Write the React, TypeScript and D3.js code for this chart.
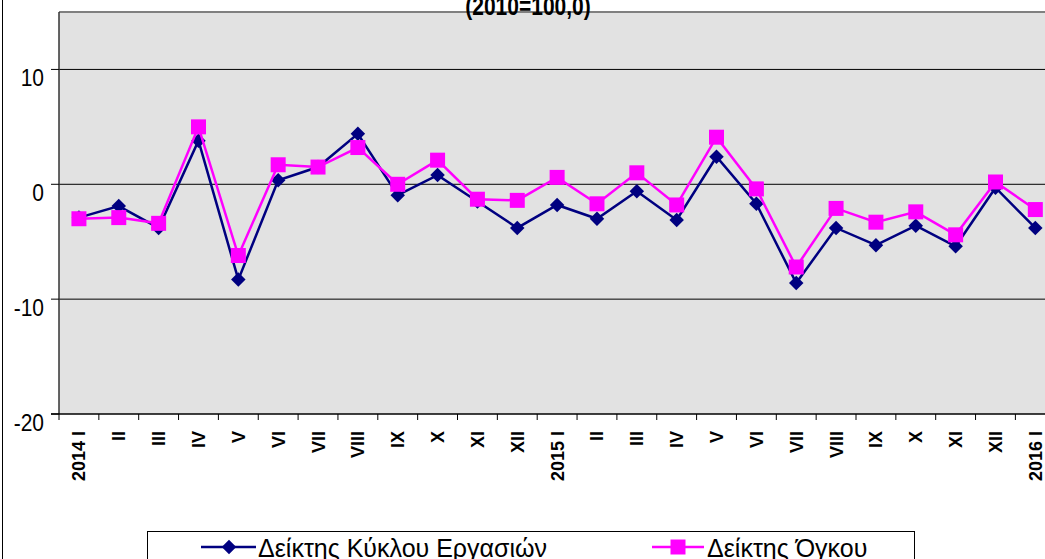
import React from 'react';
import * as d3 from 'd3';

const months = [
  '2014 I', 'II', 'III', 'IV', 'V', 'VI', 'VII', 'VIII', 'IX', 'X', 'XI', 'XII',
  '2015 I', 'II ', 'III ', 'IV ', 'V ', 'VI ', 'VII ', 'VIII ', 'IX ', 'X ', 'XI ', 'XII ',
  '2016 I',
];

const turnover = [
  -2.9, -1.9, -3.8, 3.8, -8.3, 0.35, 1.5, 4.4, -0.95, 0.8, -1.5, -3.8,
  -1.8, -3.0, -0.6, -3.1, 2.4, -1.7, -8.6, -3.8, -5.3, -3.6, -5.4, -0.3, -3.8,
];

const volume = [
  -3.0, -2.9, -3.4, 5.0, -6.2, 1.7, 1.5, 3.2, 0.0, 2.1, -1.3, -1.4,
  0.6, -1.7, 1.0, -1.8, 4.1, -0.4, -7.2, -2.1, -3.3, -2.4, -4.4, 0.2, -2.2,
];

const yTicks = [10, 0, -10, -20];

const seriesNames = ['Δείκτης Κύκλου Εργασιών', 'Δείκτης Όγκου'];
const title = '(2010=100,0)';

const W = 1045;
const H = 559;
const NAVY = '#000080';
const MAGENTA = '#FF00FF';

export default function App() {
  const left = 59;
  const top = 12;
  const bottom = 414;
  const step = 39.85;

  const x = d3.scaleBand<string>()
    .domain(months)
    .range([left, left + step * months.length]);
  const cx = (i: number) => (x(months[i]) as number) + x.bandwidth() / 2;

  const y = d3.scaleLinear().domain([-20, 15]).range([bottom, top]);

  const line = d3.line<number>()
    .x((_, i) => cx(i))
    .y(d => y(d));

  const square = d3.symbol(d3.symbolSquare, 225)();
  const diamond = d3.symbol(d3.symbolSquare, 105)();

  const right = left + step * months.length;
  const boundaries = d3.range(months.length + 1).map(i => left + i * step);

  return (
    <svg width={W} height={H} style={{ position: 'absolute', left: 0, top: 0 }}
      fontFamily="Arial, 'Liberation Sans', sans-serif">
      <rect x={0} y={0} width={W} height={H} fill="#fff" />
      <line x1={2.5} x2={2.5} y1={0} y2={H} stroke="#000" strokeWidth={1} />

      {/* plot area */}
      <rect x={left} y={top} width={right - left} height={bottom - top} fill="#E2E2E2" />
      <line x1={left} x2={right} y1={top} y2={top} stroke="#808080" strokeWidth={2} />

      {yTicks.filter(t => t !== -20).map(t => (
        <line key={t} x1={left} x2={right} y1={y(t)} y2={y(t)} stroke="#000" strokeWidth={1} />
      ))}

      {/* axes */}
      <line x1={left} x2={left} y1={top} y2={bottom} stroke="#333" strokeWidth={1.5} />
      <line x1={left - 8} x2={right} y1={bottom} y2={bottom} stroke="#000" strokeWidth={1.5} />
      {yTicks.map(t => (
        <g key={t}>
          <line x1={left - 8} x2={left} y1={y(t)} y2={y(t)} stroke="#000" strokeWidth={1} />
          <text x={44} y={y(t) + 17} textAnchor="end" fontSize={21} fill="#000"
            transform={`translate(0,${y(t) + 17}) scale(1,1.1) translate(0,${-(y(t) + 17)})`}>{t}</text>
        </g>
      ))}
      {boundaries.map((bx, i) => (
        <line key={i} x1={bx} x2={bx} y1={bottom} y2={bottom + 6} stroke="#000" strokeWidth={1} />
      ))}
      {months.map((m, i) => (
        <text key={i} transform={`translate(${cx(i) + 6.5},431) rotate(-90)`}
          textAnchor="end" fontSize={18} fontWeight="bold" fill="#000">{m.trim()}</text>
      ))}

      {/* series */}
      <path d={line(turnover) || ''} fill="none" stroke={NAVY} strokeWidth={2.5} />
      {turnover.map((v, i) => (
        <path key={i} d={diamond || ''} transform={`translate(${cx(i)},${y(v)}) rotate(45)`} fill={NAVY} />
      ))}
      <path d={line(volume) || ''} fill="none" stroke={MAGENTA} strokeWidth={2.5} />
      {volume.map((v, i) => (
        <path key={i} d={square || ''} transform={`translate(${cx(i)},${y(v)})`} fill={MAGENTA} />
      ))}

      {/* title */}
      <text transform="translate(528,15) scale(1,1.2)" textAnchor="middle" fontSize={21}
        fontWeight="bold" fill="#000">{title}</text>

      {/* legend */}
      <rect x={147.5} y={531.5} width={767} height={40} fill="#fff" stroke="#000" strokeWidth={1} />
      <line x1={201} x2={256} y1={547} y2={547} stroke={NAVY} strokeWidth={2.5} />
      <path d={diamond || ''} transform="translate(229,547) rotate(45)" fill={NAVY} />
      <text x={258} y={557} fontSize={25} fill="#000">{seriesNames[0]}</text>
      <line x1={652} x2={704} y1={547} y2={547} stroke={MAGENTA} strokeWidth={2.5} />
      <path d={square || ''} transform="translate(678,547)" fill={MAGENTA} />
      <text x={707} y={557} fontSize={25} fill="#000">{seriesNames[1]}</text>
    </svg>
  );
}
